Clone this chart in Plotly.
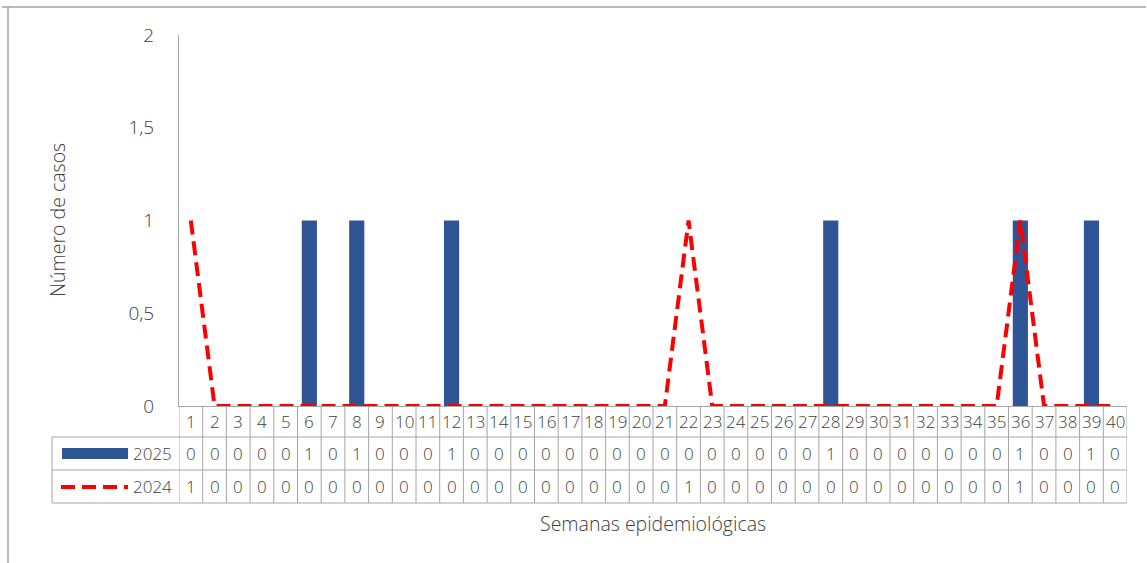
import plotly.graph_objects as go

weeks = list(range(1, 41))
cases_2025 = [0,0,0,0,0,1,0,1,0,0,0,1,0,0,0,0,0,0,0,0,
              0,0,0,0,0,0,0,1,0,0,0,0,0,0,0,1,0,0,1,0]
cases_2024 = [1,0,0,0,0,0,0,0,0,0,0,0,0,0,0,0,0,0,0,0,
              0,1,0,0,0,0,0,0,0,0,0,0,0,0,0,1,0,0,0,0]
y_ticks = [0, 0.5, 1, 1.5, 2]
series_names = ["2025", "2024"]

W, H = 1147, 563
L, R, T, B = 179, 20, 35, 157
PW, PH = W - L - R, H - T - B

def py(p):  # pixel y -> paper y
    return (H - B - p) / PH

def px(p):  # pixel x -> paper x
    return (p - L) / PW

BLUE = "#2F5597"
RED = "#FF0000"
GRID = "#A6A6A6"
TXT = "#404040"
FONT = "Open Sans"

fig = go.Figure()
fig.add_trace(go.Bar(x=weeks, y=cases_2025, name=series_names[0],
                     marker=dict(color=BLUE, line=dict(width=0)),
                     width=0.64))
fig.add_trace(go.Scatter(x=weeks, y=cases_2024, name=series_names[1], mode="lines",
                         cliponaxis=False,
                         line=dict(color=RED, width=4, dash="14px,7px")))

shapes = []
annotations = []

row_top = py(406)
row1 = py(437)
row2 = py(470)
row3 = py(503)
leg_left = px(52)

# vertical grid lines of table
for i in range(len(weeks) + 1):
    shapes.append(dict(type="line", xref="x", yref="paper", x0=i + 0.5, x1=i + 0.5,
                       y0=row_top, y1=row3, line=dict(color=GRID, width=1)))
# horizontal lines
for yy in (row1, row2, row3):
    shapes.append(dict(type="line", xref="paper", yref="paper", x0=leg_left, x1=1,
                       y0=yy, y1=yy, line=dict(color=GRID, width=1)))
shapes.append(dict(type="line", xref="paper", yref="paper", x0=leg_left, x1=leg_left,
                   y0=row1, y1=row3, line=dict(color=GRID, width=1)))

# legend keys inside table
shapes.append(dict(type="rect", xref="paper", yref="paper", x0=px(62), x1=px(128),
                   y0=py(459), y1=py(448), fillcolor=BLUE, line=dict(width=0)))
shapes.append(dict(type="line", xref="paper", yref="paper", x0=px(61), x1=px(128),
                   y0=py(487), y1=py(487), line=dict(color=RED, width=4, dash="14px,7px")))

# outer chart border (top and left)
shapes.append(dict(type="line", xref="paper", yref="paper", x0=px(2), x1=px(1146),
                   y0=py(7), y1=py(7), line=dict(color="#A0A0A0", width=1.5)))
shapes.append(dict(type="line", xref="paper", yref="paper", x0=px(8), x1=px(8),
                   y0=py(7), y1=py(600), line=dict(color="#A0A0A0", width=1.5)))

tf = dict(family=FONT, size=17, color=TXT, weight=300)
for i, w in enumerate(weeks):
    for yc, txt in (((row_top + row1) / 2, str(w)),
                    ((row1 + row2) / 2, str(cases_2025[i])),
                    ((row2 + row3) / 2, str(cases_2024[i]))):
        annotations.append(dict(x=w, y=yc, xref="x", yref="paper", xanchor="center",
                                yanchor="middle", text=txt, showarrow=False, font=tf))

annotations.append(dict(x=px(174), y=(row1 + row2) / 2, xref="paper", yref="paper",
                        xanchor="right", yanchor="middle", text=series_names[0],
                        showarrow=False, font=tf))
annotations.append(dict(x=px(174), y=(row2 + row3) / 2, xref="paper", yref="paper",
                        xanchor="right", yanchor="middle", text=series_names[1],
                        showarrow=False, font=tf))
annotations.append(dict(x=px(653), y=py(523), xref="paper", yref="paper",
                        xanchor="center", yanchor="middle",
                        text="Semanas epidemiológicas", showarrow=False,
                        font=dict(family=FONT, size=19.5, color=TXT, weight=300)))
annotations.append(dict(x=px(57), y=py(220), xref="paper", yref="paper",
                        xanchor="center", yanchor="middle",
                        text="Número de casos", showarrow=False, textangle=-90,
                        font=dict(family=FONT, size=19.5, color=TXT, weight=300)))

fig.update_layout(
    width=W, height=H,
    margin=dict(l=L, r=R, t=T, b=B),
    paper_bgcolor="white", plot_bgcolor="white",
    separators=",.",
    showlegend=False,
    shapes=shapes, annotations=annotations,
    xaxis=dict(range=[0.5, 40.5], showticklabels=False, showgrid=False, zeroline=False,
               showline=True, linecolor=GRID, linewidth=1, ticks=""),
    yaxis=dict(range=[0, 2], tickvals=y_ticks, showgrid=False, zeroline=False,
               showline=True, linecolor=GRID, linewidth=1, ticks="",
               ticklabelstandoff=20,
               tickfont=dict(family=FONT, size=19, color=TXT, weight=300)),
)

fig.write_html("out.html", config={"displayModeBar": False},
               post_script="document.body.style.margin='0';")
